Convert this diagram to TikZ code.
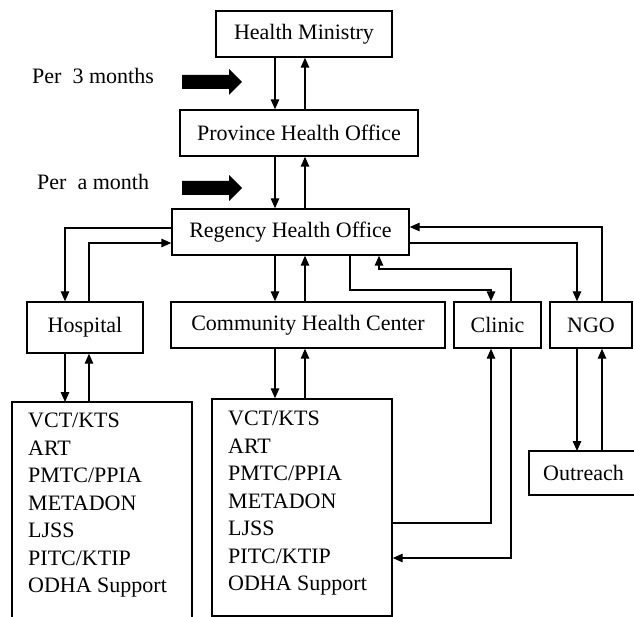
\documentclass[tikz,border=0pt]{standalone}
\usepackage{fontspec}
\setmainfont{Liberation Serif}
\usetikzlibrary{arrows.meta,calc}
\begin{document}
\begin{tikzpicture}[x=1pt,y=-1pt,
  box/.style={draw, line width=1.4pt, inner sep=0pt, font=\fontsize{22}{27.5}\selectfont},
  arr/.style={line width=1.4pt, -{Triangle[length=10pt,width=8.5pt]}},
  ln/.style={line width=1.4pt},
  lbl/.style={font=\fontsize{22}{27.5}\selectfont, inner sep=0pt},
  fatarrow/.style={fill=black}]
\useasboundingbox (0,0) rectangle (634,617);

% boxes
\node[box, minimum width=176pt, minimum height=46pt] (hm) at (304,34) {Health Ministry};
\node[box, minimum width=238pt, minimum height=46pt] (pho) at (299,133) {Province Health Office};
\node[box, minimum width=237pt, minimum height=46pt] (rho) at (290.5,232) {Regency Health Office};
\node[box, minimum width=116pt, minimum height=51pt] (hosp) at (85,327.5) {Hospital};
\node[box, minimum width=274pt, minimum height=46pt] (chc) at (308,325) {Community Health Center};
\node[box, minimum width=87pt, minimum height=46pt] (clinic) at (497.5,325) {Clinic};
\node[box, minimum width=82pt, minimum height=46pt] (ngo) at (591,325) {NGO};
\node[box, minimum width=180pt, minimum height=217pt] (clist) at (302,507.5) {};

% left list box (open at the bottom of the page)
\draw[ln] (12,617) -- (12,402) -- (192,402) -- (192,617);
\coordinate (hltop) at (0,402);
% outreach box (cut at the right edge)
\draw[ln] (634,451) -- (529,451) -- (529,495) -- (634,495);
\coordinate (otop) at (0,451);
\node[lbl] (outr) at (583.5,473) {Outreach};

% list texts
\node[lbl, align=left, anchor=north west] (hltxt) at (28,413)
  {VCT/KTS\\ART\\PMTC/PPIA\\METADON\\LJSS\\PITC/KTIP\\ODHA Support};
\node[lbl, align=left, anchor=north west] (cltxt) at (228,411)
  {VCT/KTS\\ART\\PMTC/PPIA\\METADON\\LJSS\\PITC/KTIP\\ODHA Support};

% period labels and fat arrows
\node[lbl, anchor=west] (p3) at (32,76) {Per\ \ 3 months};
\node[lbl, anchor=west] (p1) at (37,182) {Per\ \ a month};
\fill[fatarrow] (182,75) -- (229,75) -- (229,69) -- (242,82) -- (229,95) -- (229,89) -- (182,89) -- cycle;
\fill[fatarrow] (182,181) -- (229,181) -- (229,175) -- (242,188) -- (229,201) -- (229,195) -- (182,195) -- cycle;

% helper coordinates
\coordinate (xa) at (275,0);
\coordinate (xb) at (305,0);
\coordinate (b1) at (65,228);
\coordinate (b2) at (89,243);
\coordinate (b3) at (350,290);
\coordinate (b4) at (491,290);
\coordinate (b5) at (511,269);
\coordinate (b6) at (379,269);
\coordinate (b7) at (577,243);
\coordinate (b8) at (602,227);
\coordinate (b9) at (491,523);
\coordinate (b10) at (511,558);

% connectors
\draw[arr] (hm.south -| xa) -- (pho.north -| xa);
\draw[arr] (pho.north -| xb) -- (hm.south -| xb);
\draw[arr] (pho.south -| xa) -- (rho.north -| xa);
\draw[arr] (rho.north -| xb) -- (pho.south -| xb);
\draw[arr] (rho.west |- b1) -| (hosp.north -| b1);
\draw[arr] (hosp.north -| b2) |- (rho.west |- b2);
\draw[arr] (rho.south -| xa) -- (chc.north -| xa);
\draw[arr] (chc.north -| xb) -- (rho.south -| xb);
\draw[arr] (rho.south -| b3) -- (b3) -- (b4) -- (clinic.north -| b4);
\draw[arr] (clinic.north -| b5) -- (b5) -- (b6) -- (rho.south -| b6);
\draw[arr] (rho.east |- b7) -| (ngo.north -| b7);
\draw[arr] (ngo.north -| b8) |- (rho.east |- b8);
\draw[arr] (hosp.south -| b1) -- (hltop -| b1);
\draw[arr] (hltop -| b2) -- (hosp.south -| b2);
\draw[arr] (chc.south -| xa) -- (clist.north -| xa);
\draw[arr] (clist.north -| xb) -- (chc.south -| xb);
\draw[arr] (clist.east |- b9) -| (clinic.south -| b9);
\draw[arr] (clinic.south -| b10) |- (clist.east |- b10);
\draw[arr] (ngo.south -| b7) -- (otop -| b7);
\draw[arr] (otop -| b8) -- (ngo.south -| b8);
\end{tikzpicture}
\end{document}
